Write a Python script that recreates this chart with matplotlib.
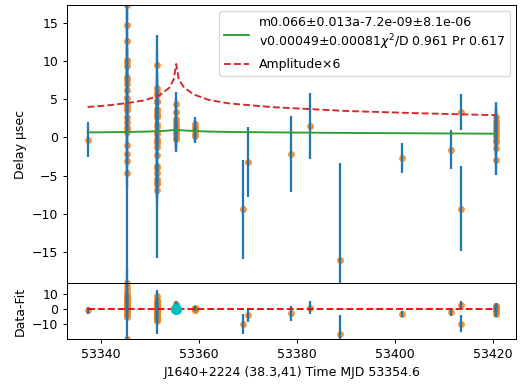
import numpy as np
import matplotlib
matplotlib.use("Agg")
import matplotlib.pyplot as plt

# TOA delays (usec) per epoch
t_obs = np.array(
    [53337.3]
    + [53345.3] * 24
    + [53351.4] * 27
    + [53355.4] * 11
    + [53359.3] * 6
    + [53369.0, 53370.1, 53378.9, 53382.6, 53388.8, 53401.5, 53411.4, 53413.4, 53413.4]
    + [53420.6] * 11
)
delay = np.array(
    [-0.3]
    + [17.3, 14.7, 12.6, 10.1, 9.8, 9.3, 7.9, 7.5, 7.0, 6.2, 5.1, 4.3, 4.0, 3.6,
       2.7, 2.0, 1.4, 1.1, 0.7, -1.0, -2.2, -3.1, -4.7, -19.1]
    + [9.4, 6.4, 5.9, 5.5, 4.8, 4.6, 3.7, 3.5, 3.1, 2.75, 2.6, 1.7, 1.35, 0.7,
       0.5, -0.2, -0.5, -0.8, -1.2, -2.3, -3.8, -4.0, -4.7, -5.5, -5.9, -6.1, -6.9]
    + [4.4, 3.3, 2.4, 2.0, 1.6, 1.3, 1.0, 0.7, 0.4, 0.1, -0.2]
    + [1.7, 1.3, 1.0, 0.9, 0.4, 0.2]
    + [-9.4, -3.2, -2.2, 1.5, -16.0, -2.7, -1.6, 3.3, -9.3]
    + [2.6, 2.2, 1.8, 1.4, 1.0, 0.6, 0.2, -0.3, -0.6, -1.4, -2.9]
)
delay_err = np.array(
    [2.25]
    + [2.0] * 18 + [28.0] + [2.0] * 5
    + [2.0] * 18 + [14.6] + [2.0] * 8
    + [1.5] * 4 + [3.5] + [1.5] * 6
    + [1.0] * 3 + [1.2] + [1.0] * 2
    + [6.45, 4.6, 5.0, 4.3, 12.6, 1.9, 2.55, 2.4, 5.6]
    + [2.0] * 8 + [4.2] + [2.0] * 2
)

# fitted model and scaled amplitude curves
fit_t = [53337.3, 53341, 53345, 53349, 53352, 53354, 53354.9, 53355.4, 53355.9,
         53357, 53359, 53362, 53366, 53375, 53390, 53405, 53420.6]
fit_val = [0.65, 0.67, 0.70, 0.75, 0.82, 0.90, 0.96, 1.02, 0.96,
           0.90, 0.83, 0.76, 0.71, 0.65, 0.58, 0.53, 0.48]
amp_x6 = [3.97, 4.15, 4.45, 4.85, 5.5, 6.5, 7.6, 9.6, 7.6,
          6.5, 5.6, 4.9, 4.45, 3.95, 3.45, 3.15, 2.9]
t_event = 53355.4

fit_label = "m0.066±0.013a-7.2e-09±8.1e-06\nv0.00049±0.00081$\\chi^2$/D 0.961 Pr 0.617"

resid = delay - np.interp(t_obs, fit_t, fit_val)

fig, (ax, axr) = plt.subplots(2, 1, sharex=True, figsize=(520 / 90, 385 / 90), dpi=90,
                              gridspec_kw={"height_ratios": [5, 1], "hspace": 0})
fig.subplots_adjust(left=0.129, right=0.993, top=0.987, bottom=0.119)

ax.plot(t_obs, delay, "o", color="C1", ms=4.5, alpha=0.8)
ax.errorbar(t_obs, delay, yerr=delay_err, fmt="none", ecolor="C0", lw=1.8)
ax.plot(fit_t, fit_val, "-", color="C2", lw=1.5, label=fit_label)
ax.plot(fit_t, amp_x6, "--", color="C3", lw=1.5, label="Amplitude×6")
ax.set_ylim(delay.min(), delay.max())
ax.set_ylabel("Delay μsec")
ax.legend(loc="upper right")

axr.plot(t_obs, resid, "o", color="C1", ms=4.5, alpha=0.8)
axr.errorbar(t_obs, resid, yerr=delay_err, fmt="none", ecolor="C0", lw=1.8)
axr.plot([t_obs.min(), t_obs.max()], [0, 0], "r--", lw=1.5)
axr.plot([t_event], [0], "o", color="c", ms=8)
axr.set_ylim(resid.min(), resid.max())
axr.set_ylabel("Data-Fit")
axr.set_xlabel("J1640+2224 (38.3,41) Time MJD 53354.6")

fig.savefig("out.png", dpi=90)
